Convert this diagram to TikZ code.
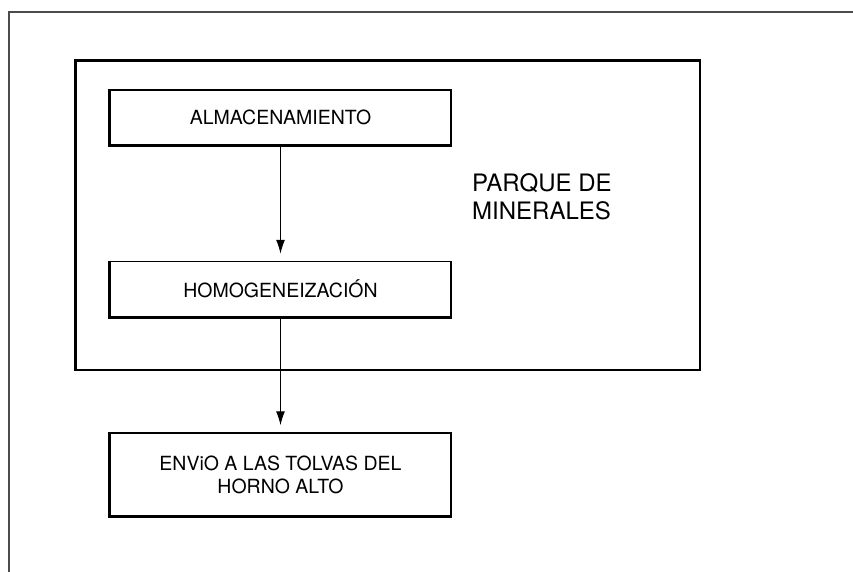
\documentclass[tikz,border=0pt]{standalone}
\usepackage{fontspec}
\setmainfont{TeX Gyre Heros}
\usetikzlibrary{positioning,arrows.meta}
\tikzset{
  etapa/.style={draw,line width=1.5pt,minimum width=341pt,minimum height=55pt,
    inner sep=0pt,align=center,font=\fontsize{19.5}{23}\selectfont},
  borde/.style={line width=3pt},
}
\begin{document}
\begin{tikzpicture}[>={Latex[length=14pt,width=9pt]},x=1pt,y=-1pt]
\useasboundingbox (0,0) rectangle (853,572);
\draw[line width=1.6pt,black!70] (9,572)--(9,12)--(853,12);
\node[draw,line width=1.5pt,minimum width=624pt,minimum height=309pt] (parque) at (388,215.5) {};
\draw[borde] (parque.south west)--(parque.north west)--(parque.north east);
\node[etapa] (alm) at (280.5,117.5) {ALMACENAMIENTO};
\node[etapa,below=115pt of alm] (hom) {HOMOGENEIZACIÓN};
\node[etapa,below=115pt of hom,minimum height=83pt] (envio) {ENViO A LAS TOLVAS DEL\\HORNO ALTO};
\foreach \n in {alm,hom,envio}
  \draw[borde] (\n.north west)--(\n.south west)--(\n.south east);
\node[anchor=west,align=left,inner sep=0pt,font=\fontsize{24}{28}\selectfont] (rotulo) at (472,197) {PARQUE DE\\MINERALES};
\draw[->,line width=1pt,shorten >=7pt] (alm)--(hom);
\draw[->,line width=1pt,shorten >=7pt] (hom)--(envio);
\end{tikzpicture}
\end{document}
